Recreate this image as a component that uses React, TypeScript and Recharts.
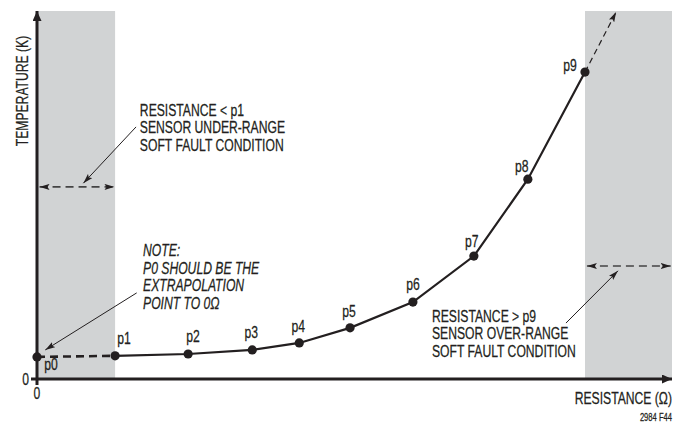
import React from 'react';
import {
  ComposedChart,
  Line,
  Scatter,
  XAxis,
  YAxis,
  ReferenceArea,
  ReferenceLine,
  ReferenceDot,
} from 'recharts';

// calibration points (arbitrary units, axes run 0..100)
const pointLabels = ['p0', 'p1', 'p2', 'p3', 'p4', 'p5', 'p6', 'p7', 'p8', 'p9'];
const resistance = [0, 12.3, 23.8, 33.9, 41.3, 49.3, 59.2, 68.8, 77.3, 86.3];
const temperature = [6.0, 6.3, 6.8, 7.9, 9.8, 13.9, 20.9, 33.4, 54.3, 83.4];

// dashed continuation beyond p9
const extrapResistance = [86.3, 91.2];
const extrapTemperature = [83.4, 99.7];

const xTicks = [0];
const yTicks = [0];

const INK = '#231f20';
const GRAY = '#d1d3d4';
const FONT = '"Liberation Sans", Arial, Helvetica, sans-serif';

const points = pointLabels.map((label, i) => ({ label, x: resistance[i], y: temperature[i] }));
const underRange = points.slice(0, 2);
const curve = points.slice(1);
const extrap = extrapResistance.map((x, i) => ({ x, y: extrapTemperature[i] }));

// label offsets from the dot centre (px)
const labelOffset: Record<string, [number, number]> = {
  p0: [14, 13],
  p1: [9, -12],
  p2: [5, -12],
  p3: [-1, -12],
  p4: [-1, -11],
  p5: [-1, -11],
  p6: [0, -12],
  p7: [-2, -9],
  p8: [-6, -7],
  p9: [-15, -1],
};

type TxtProps = {
  x: number;
  y: number;
  lines: string[];
  size?: number;
  italic?: boolean;
  anchor?: 'start' | 'middle' | 'end';
  lead?: number;
  rotate?: number;
};

function Condensed({ x, y, lines, size = 16, italic = false, anchor = 'start', lead = 17.5, rotate = 0 }: TxtProps) {
  return (
    <text
      transform={`translate(${x},${y}) rotate(${rotate}) scale(0.76,1)`}
      fontFamily={FONT}
      fontSize={size}
      fontStyle={italic ? 'italic' : 'normal'}
      textAnchor={anchor}
      fill={INK}
      stroke={INK}
      strokeWidth={0.25}
    >
      {lines.map((l, i) => (
        <tspan key={i} x={0} dy={i === 0 ? 0 : lead}>
          {l}
        </tspan>
      ))}
    </text>
  );
}

const PointShape = (p: any) => {
  const label = p.payload?.label ?? '';
  const [dx, dy] = labelOffset[label] ?? [0, -12];
  return (
    <g>
      <circle cx={p.cx} cy={p.cy} r={4.6} fill={INK} />
      <Condensed x={p.cx + dx} y={p.cy + dy} lines={[label]} anchor='middle' />
    </g>
  );
};

const textAt = (lines: string[], italic = false) => (props: any) => {
  const vb = props.viewBox || {};
  return <Condensed x={vb.x} y={vb.y} lines={lines} italic={italic} />;
};

const XTick = (p: any) => (
  <Condensed x={p.x} y={p.y + 12} lines={[String(p.payload.value)]} anchor='middle' />
);
const YTick = (p: any) => (
  <Condensed x={p.x} y={p.y + 6} lines={[String(p.payload.value)]} anchor='end' />
);

export default function App() {
  return (
    <div style={{ position: 'absolute', left: 0, top: 0, width: 691, height: 425, background: '#fff' }}>
      <svg width={0} height={0} style={{ position: 'absolute' }}>
        <defs>
          <marker id='axisArrow' markerUnits='userSpaceOnUse' viewBox='0 0 10 9' markerWidth={10} markerHeight={9} refX={10} refY={4.5} orient='auto-start-reverse'>
            <path d='M0,0 L10,4.5 L0,9 z' fill={INK} />
          </marker>
          <marker id='smallArrow' markerUnits='userSpaceOnUse' viewBox='0 0 10 6' markerWidth={10} markerHeight={6} refX={10} refY={3} orient='auto-start-reverse'>
            <path d='M0,0 L10,3 L0,6 L2,3 z' fill={INK} />
          </marker>
        </defs>
      </svg>
      <ComposedChart width={691} height={425} margin={{ top: 11, right: 19, bottom: 45, left: 36 }}>
        <ReferenceArea x1={0} x2={resistance[1]} y1={0} y2={100} fill={GRAY} fillOpacity={1} stroke='none' />
        <ReferenceArea x1={resistance[9]} x2={100} y1={0} y2={100} fill={GRAY} fillOpacity={1} stroke='none' />
        <XAxis
          type='number'
          dataKey='x'
          domain={[0, 100]}
          ticks={xTicks}
          height={1}
          tickSize={6}
          tick={XTick}
          axisLine={{ stroke: INK, strokeWidth: 3, markerEnd: 'url(#axisArrow)' }}
          tickLine={{ stroke: INK, strokeWidth: 3 }}
          label={(props: any) => {
            const vb = props.viewBox || {};
            const right = vb.x + vb.width;
            return (
              <g>
                <Condensed x={right} y={vb.y + 25} lines={['RESISTANCE (Ω)']} anchor='end' />
                <Condensed x={right} y={vb.y + 42} lines={['2984 F44']} anchor='end' size={10} />
              </g>
            );
          }}
        />
        <YAxis
          type='number'
          dataKey='y'
          domain={[0, 100]}
          ticks={yTicks}
          width={1}
          tickSize={6}
          tick={YTick}
          axisLine={{ stroke: INK, strokeWidth: 3, markerStart: 'url(#axisArrow)' }}
          tickLine={{ stroke: INK, strokeWidth: 3 }}
          label={() => <Condensed x={28} y={91} lines={['TEMPERATURE  (K)']} anchor='middle' rotate={-90} />}
        />

        {/* under-range and over-range hints */}
        <ReferenceLine segment={[{ x: 0.4, y: 52.2 }, { x: 12.2, y: 52.2 }]} stroke='#444' strokeWidth={1.6} strokeDasharray='8 5' markerStart='url(#smallArrow)' markerEnd='url(#smallArrow)' />
        <ReferenceLine segment={[{ x: 15.6, y: 68.5 }, { x: 7.3, y: 53.2 }]} stroke={INK} strokeWidth={1} markerEnd='url(#smallArrow)' />
        <ReferenceLine segment={[{ x: 86.6, y: 30.7 }, { x: 99.8, y: 30.7 }]} stroke='#444' strokeWidth={1.6} strokeDasharray='8 5' markerStart='url(#smallArrow)' markerEnd='url(#smallArrow)' />
        <ReferenceLine segment={[{ x: 83.3, y: 15.2 }, { x: 91.5, y: 29.4 }]} stroke={INK} strokeWidth={1} markerEnd='url(#smallArrow)' />
        <ReferenceLine segment={[{ x: 15.7, y: 23.4 }, { x: 1.3, y: 7.9 }]} stroke={INK} strokeWidth={1} markerEnd='url(#smallArrow)' />

        <ReferenceDot x={16.2} y={71.5} r={0} label={textAt(['RESISTANCE < p1', 'SENSOR UNDER-RANGE', 'SOFT FAULT CONDITION'])} />
        <ReferenceDot x={16.7} y={33.4} r={0} label={textAt(['NOTE:', 'P0 SHOULD BE THE', 'EXTRAPOLATION', 'POINT TO 0Ω'], true)} />
        <ReferenceDot x={62.2} y={15.5} r={0} label={textAt(['RESISTANCE > p9', 'SENSOR OVER-RANGE', 'SOFT FAULT CONDITION'])} />

        <Line data={underRange} dataKey='y' stroke={INK} strokeWidth={2.6} strokeDasharray='8 5' dot={false} isAnimationActive={false} />
        <Line data={curve} dataKey='y' stroke={INK} strokeWidth={2.2} dot={false} isAnimationActive={false} />
        <Line data={extrap} dataKey='y' stroke={INK} strokeWidth={1.2} strokeDasharray='6 4' dot={false} markerEnd='url(#smallArrow)' isAnimationActive={false} />
        <Scatter data={points} shape={PointShape} isAnimationActive={false} />
      </ComposedChart>
    </div>
  );
}
